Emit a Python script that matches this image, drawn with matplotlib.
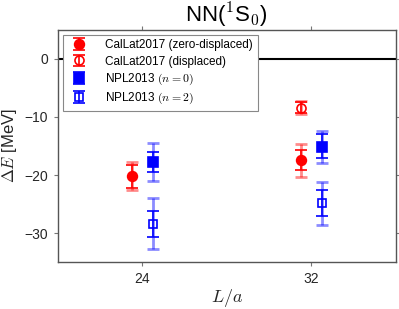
import matplotlib
matplotlib.use("Agg")
import matplotlib.pyplot as plt
import numpy as np

plt.rcParams['font.family'] = ['Liberation Sans', 'DejaVu Sans']
plt.rcParams['mathtext.fontset'] = 'cm'

L_vals = [24, 32]
# CalLat2017 zero-displaced
cl_zero = [-20.2, -17.4]
cl_zero_stat = [(2.0, 2.0), (1.7, 1.7)]
cl_zero_tot = [(2.4, 2.5), (2.9, 2.8)]
# CalLat2017 displaced
cl_disp = [None, -8.4]
cl_disp_stat = [None, (0.9, 0.9)]
cl_disp_tot = [None, (1.0, 1.1)]
# NPL2013 n=0
npl0 = [-17.8, -15.1]
npl0_stat = [(1.6, 1.8), (1.9, 2.1)]
npl0_tot = [(3.2, 3.3), (2.8, 2.7)]
# NPL2013 n=2
npl2 = [-28.4, -24.9]
npl2_stat = [(2.2, 2.2), (2.2, 2.3)]
npl2_tot = [(4.4, 4.5), (3.7, 3.7)]

offsets = {'clz': -0.5, 'cld': -0.5, 'n0': 0.5, 'n2': 0.5}

fig = plt.figure(figsize=(3.99, 3.09), dpi=100)
ax = fig.add_axes([0.145, 0.152, 0.847, 0.751])

def draw(vals, stat, tot, off, color, marker, filled, label, ms):
    xs, ys, s_lo, s_hi, t_lo, t_hi = [], [], [], [], [], []
    for L, v, s, t in zip(L_vals, vals, stat, tot):
        if v is None:
            continue
        xs.append(L + off); ys.append(v)
        s_lo.append(s[0]); s_hi.append(s[1]); t_lo.append(t[0]); t_hi.append(t[1])
    fc = color if filled else 'none'
    ax.errorbar(xs, ys, yerr=[t_lo, t_hi], fmt='none', ecolor=color, elinewidth=2.0,
                capsize=4.5, capthick=2.0, alpha=0.45)
    ax.errorbar(xs, ys, yerr=[s_lo, s_hi], fmt=marker, color=color, mfc=fc, mec=color,
                ms=ms, mew=1.2, elinewidth=1.2, capsize=4.5, capthick=1.2, label=label)

draw(cl_zero, cl_zero_stat, cl_zero_tot, offsets['clz'], 'red', 'o', True,
     'CalLat2017 (zero-displaced)', 7)
draw(cl_disp, cl_disp_stat, cl_disp_tot, offsets['cld'], 'red', 'o', False,
     'CalLat2017 (displaced)', 6.5)
draw(npl0, npl0_stat, npl0_tot, offsets['n0'], 'blue', 's', True,
     r'NPL2013 $(n=0)$', 6.8)
draw(npl2, npl2_stat, npl2_tot, offsets['n2'], 'blue', 's', False,
     r'NPL2013 $(n=2)$', 6.3)

ax.axhline(0, color='black', lw=1.5, zorder=0)

ax.set_xlim(20, 36)
ax.set_ylim(-35, 5)
ax.set_xticks(L_vals)
ax.set_xticklabels([str(v) for v in L_vals])
ax.set_yticks([0, -10, -20, -30])
ax.set_yticklabels(['0', '\u221210', '\u221220', '\u221230'])
ax.tick_params(axis='both', which='both', direction='out', labelsize=10,
               top=True, right=True, color='#777777', length=3, width=0.8,
               labelcolor='#262626', pad=4)
for sp in ax.spines.values():
    sp.set_color('#555555')
    sp.set_linewidth(1.0)

ax.set_xlabel(r'$L/a$', fontsize=13, color='#262626', labelpad=1)
ax.set_ylabel(r'$\Delta E$ [MeV]', fontsize=12, color='#262626', labelpad=4)
ax.set_title(r'NN($^1$S$_0$)', fontsize=16, pad=4)

leg = ax.legend(loc='upper left', fontsize=8.5, frameon=True, fancybox=False,
                edgecolor='#888888', framealpha=1, handletextpad=1.2,
                borderaxespad=0.4, labelspacing=0.35, numpoints=1)
leg.get_frame().set_linewidth(0.8)

fig.savefig('out.png', dpi=100)
